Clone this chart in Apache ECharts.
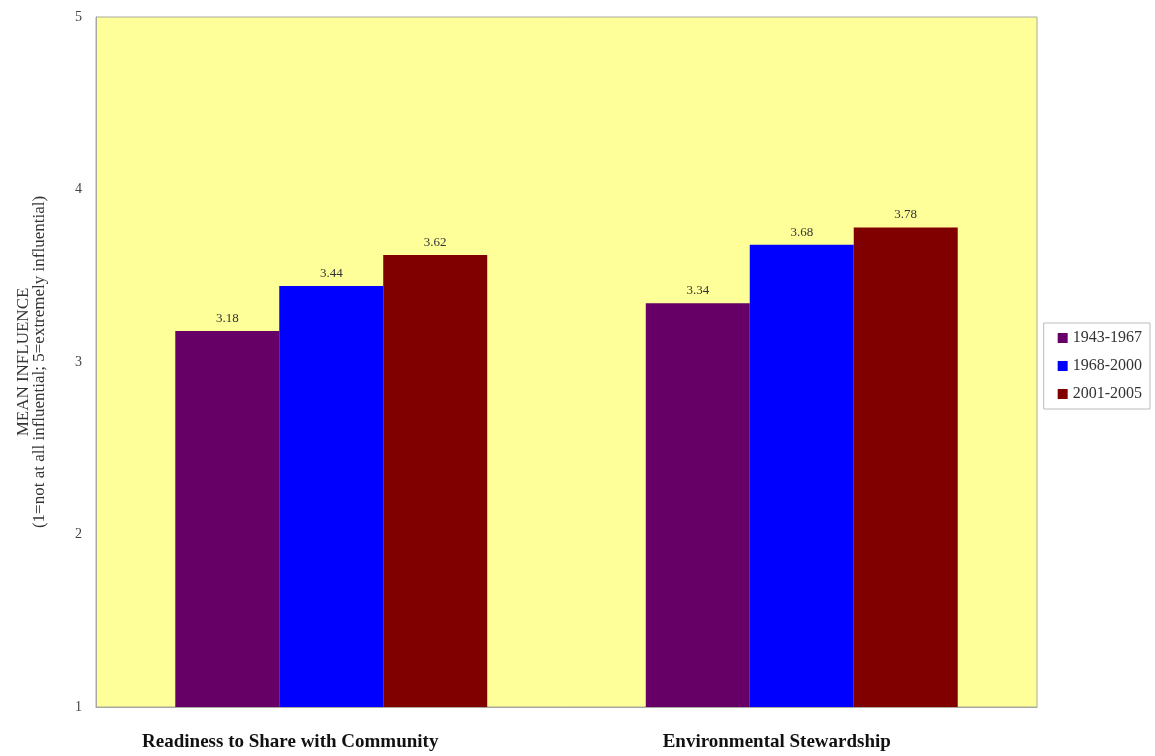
<!DOCTYPE html>
<html><head><meta charset="utf-8">
<script src="https://cdn.jsdelivr.net/npm/echarts@6/dist/echarts.min.js"></script>
<style>html,body{margin:0;padding:0;background:#fff}#c{width:1155px;height:756px}</style>
</head><body><div id="c"></div>
<script>
const categories = ['Readiness to Share with Community', 'Environmental Stewardship'];
const seriesNames = ['1943-1967', '1968-2000', '2001-2005'];
const s1943 = [3.18, 3.34];
const s1968 = [3.44, 3.68];
const s2001 = [3.62, 3.78];
const colors = ['#660066', '#0000FF', '#800000'];
const values = [s1943, s1968, s2001];
const font = '"Liberation Serif", "Times New Roman", serif';

const chart = echarts.init(document.getElementById('c'));
chart.setOption({
  animation: false,
  textStyle: { fontFamily: font },
  grid: { left: 96, right: 118, top: 17, bottom: 49, show: true, backgroundColor: '#FFFF99', borderColor: '#A8A8A0', borderWidth: 1, outerBoundsMode: 'none', containLabel: false },
  legend: {
    orient: 'vertical', right: 5, top: 323, itemWidth: 10, itemHeight: 10, itemGap: 12,
    padding: [7, 8, 7, 14], borderColor: '#BBBBBB', borderWidth: 1,
    textStyle: { fontFamily: font, fontSize: 16, color: '#333' },
    data: seriesNames, icon: 'rect'
  },
  xAxis: {
    type: 'category', data: categories,
    axisLine: { lineStyle: { color: '#A8A8A0' } },
    axisTick: { show: false },
    axisLabel: {
      margin: 26,
      formatter: (v, i) => (i === 0 ? '{a|' : '{b|') + v + '}',
      rich: {
        a: { fontFamily: font, fontWeight: 'bold', fontSize: 19, color: '#111', padding: [0, 82, 0, 0] },
        b: { fontFamily: font, fontWeight: 'bold', fontSize: 19, color: '#111', padding: [0, 50, 0, 0] }
      }
    }
  },
  yAxis: {
    type: 'value', min: 1, max: 5, interval: 1,
    name: 'MEAN INFLUENCE\n(1=not at all influential; 5=extremely influential)',
    nameLocation: 'middle', nameGap: 48, nameRotate: 90,
    nameTextStyle: { fontFamily: font, fontSize: 17, color: '#333', lineHeight: 16 },
    axisLine: { show: true, lineStyle: { color: '#A8A8A0' } },
    axisTick: { show: false },
    splitLine: { show: false },
    axisLabel: { fontFamily: font, fontSize: 14, color: '#444', margin: 14 }
  },
  series: values.map((v, i) => ({
    name: seriesNames[i], type: 'bar', data: v,
    itemStyle: { color: colors[i] },
    barGap: '0%', barCategoryGap: '33.7%',
    label: { show: true, position: 'top', distance: 6, fontFamily: font, fontSize: 13, color: '#333', formatter: p => p.value.toFixed(2) }
  }))
});
</script></body></html>
